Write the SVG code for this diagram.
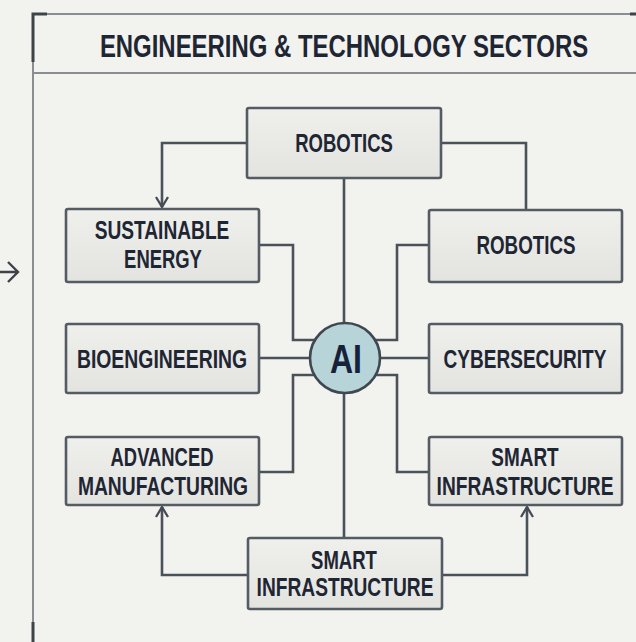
<svg xmlns="http://www.w3.org/2000/svg" width="636" height="642" viewBox="0 0 636 642">
<defs>
<linearGradient id="boxg" x1="0" y1="0" x2="0" y2="1">
<stop offset="0" stop-color="#efefec"/>
<stop offset="1" stop-color="#e3e3e0"/>
</linearGradient>
<marker id="arr" viewBox="0 0 13 14" refX="11" refY="7" markerWidth="13" markerHeight="14" markerUnits="userSpaceOnUse" orient="auto">
<path d="M1,1 L11,7 L1,13" fill="none" stroke="#454b54" stroke-width="2.3"/>
</marker>
<style>
.box{fill:url(#boxg);stroke:#555b63;stroke-width:2.6}
.lbl{font-family:"Liberation Sans",Arial,sans-serif;font-weight:bold;font-size:26px;fill:#1f2633;text-anchor:middle}
.sm{font-size:25px}
.con{fill:none;stroke:#4b5159;stroke-width:2.6}
.frame{fill:none;stroke:#8a8d91;stroke-width:2}
.corner{fill:none;stroke:#3e434a;stroke-width:3}
</style>
</defs>
<rect width="636" height="642" fill="#f2f2ef"/>
<g id="frame">
<path class="frame" d="M33,642 V14 H636"/>
<line class="frame" x1="33" y1="73" x2="636" y2="73"/>
<path class="corner" d="M33,62 V14 H47"/>
<line class="corner" x1="33" y1="622" x2="33" y2="642"/>
<line class="corner" x1="630" y1="14" x2="636" y2="14"/>
<path d="M0,272 H18 M8,262 L18,272 L8,282" fill="none" stroke="#3e434a" stroke-width="2.4"/>
<text transform="translate(344,57) scale(0.75,1)" font-family="Liberation Sans,Arial,sans-serif" font-weight="bold" font-size="32" fill="#1f2633" text-anchor="middle" textLength="651" lengthAdjust="spacingAndGlyphs">ENGINEERING &amp; TECHNOLOGY SECTORS</text>
</g>
<g id="connectors">
<path class="con" d="M247,143 H162 V207" marker-end="url(#arr)"/>
<path class="con" d="M441,143 H526 V210"/>
<path class="con" d="M344,178 V323"/>
<path class="con" d="M259,245 H293 V340 H314"/>
<path class="con" d="M429,245 H397 V340 H376"/>
<path class="con" d="M259,358 H310"/>
<path class="con" d="M380,358 H429"/>
<path class="con" d="M314,375 H293 V472 H259"/>
<path class="con" d="M376,375 H397 V472 H429"/>
<path class="con" d="M344,393 V538"/>
<path class="con" d="M248,575 H162 V507" marker-end="url(#arr)"/>
<path class="con" d="M442,575 H527 V507" marker-end="url(#arr)"/>
</g>
<g id="robotics-top">
<rect class="box" x="247" y="108" width="194" height="70" rx="2"/>
<text class="lbl" transform="translate(344,152) scale(0.74,1)" textLength="132" lengthAdjust="spacingAndGlyphs">ROBOTICS</text>
</g>
<g id="sustainable-energy">
<rect class="box" x="66" y="209" width="193" height="73" rx="2"/>
<text class="lbl sm" transform="translate(162,239) scale(0.77,1)" textLength="175" lengthAdjust="spacingAndGlyphs">SUSTAINABLE</text>
<text class="lbl sm" transform="translate(163,268) scale(0.77,1)" textLength="101" lengthAdjust="spacingAndGlyphs">ENERGY</text>
</g>
<g id="robotics-right">
<rect class="box" x="429" y="210" width="193" height="72" rx="2"/>
<text class="lbl" transform="translate(526,254) scale(0.74,1)" textLength="134" lengthAdjust="spacingAndGlyphs">ROBOTICS</text>
</g>
<g id="bioengineering">
<rect class="box" x="66" y="324" width="193" height="69" rx="2"/>
<text class="lbl" transform="translate(162,368) scale(0.74,1)" textLength="230" lengthAdjust="spacingAndGlyphs">BIOENGINEERING</text>
</g>
<g id="cybersecurity">
<rect class="box" x="429" y="324" width="193" height="69" rx="2"/>
<text class="lbl" transform="translate(525,368) scale(0.74,1)" textLength="220" lengthAdjust="spacingAndGlyphs">CYBERSECURITY</text>
</g>
<g id="advanced-manufacturing">
<rect class="box" x="66" y="437" width="193" height="68" rx="2"/>
<text class="lbl" transform="translate(162,466) scale(0.74,1)" textLength="139" lengthAdjust="spacingAndGlyphs">ADVANCED</text>
<text class="lbl" transform="translate(163,495) scale(0.74,1)" textLength="230" lengthAdjust="spacingAndGlyphs">MANUFACTURING</text>
</g>
<g id="smart-infrastructure-right">
<rect class="box" x="429" y="437" width="193" height="68" rx="2"/>
<text class="lbl" transform="translate(525,466) scale(0.74,1)" textLength="91" lengthAdjust="spacingAndGlyphs">SMART</text>
<text class="lbl" transform="translate(525,495) scale(0.74,1)" textLength="239" lengthAdjust="spacingAndGlyphs">INFRASTRUCTURE</text>
</g>
<g id="smart-infrastructure-bottom">
<rect class="box" x="248" y="538" width="194" height="71" rx="2"/>
<text class="lbl" transform="translate(344,569) scale(0.74,1)" textLength="89" lengthAdjust="spacingAndGlyphs">SMART</text>
<text class="lbl" transform="translate(345,596) scale(0.74,1)" textLength="239" lengthAdjust="spacingAndGlyphs">INFRASTRUCTURE</text>
</g>
<g id="ai">
<circle cx="345" cy="358" r="35" fill="#b7d5d8" stroke="#3f4750" stroke-width="2.6"/>
<text transform="translate(346,373) scale(0.8,1)" font-family="Liberation Sans,Arial,sans-serif" font-weight="bold" font-size="40" fill="#16213a" text-anchor="middle" textLength="40" lengthAdjust="spacingAndGlyphs">AI</text>
</g>
</svg>
